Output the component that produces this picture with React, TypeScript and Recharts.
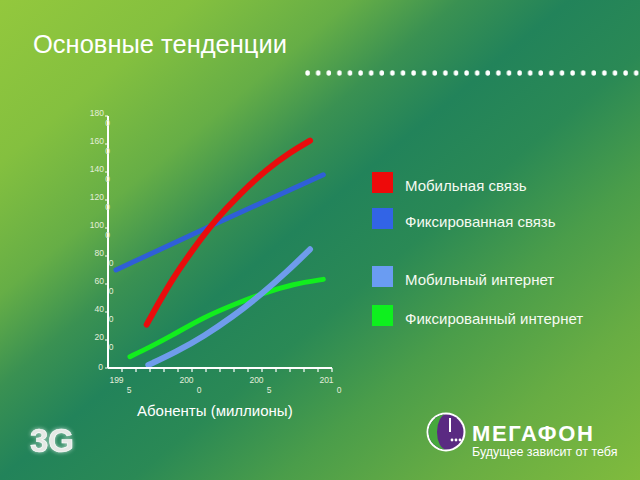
import React from "react";
import { LineChart, Line, XAxis, YAxis } from "recharts";

// ---- data ----
const yTicks = [0, 200, 400, 600, 800, 1000, 1200, 1400, 1600, 1800];
const xBoundaryTicks = [1995.5, 1996.5, 1997.5, 1998.5, 1999.5, 2000.5, 2001.5, 2002.5, 2003.5, 2004.5, 2005.5, 2006.5, 2007.5, 2008.5, 2009.5, 2010.5];
const labeledYears = [1995, 2000, 2005, 2010];

const mobileYears = [1997.26, 1998.2, 1999.16, 2000.59, 2002.14, 2003.93, 2005.84, 2007.5, 2008.93];
const mobileValues = [310, 480, 645, 850, 1055, 1245, 1420, 1540, 1624];

const fixedYears = [1995.07, 2002.14, 2009.88];
const fixedValues = [700, 1030, 1380];

const mobileNetYears = [1997.38, 1999.38, 2001.38, 2003.38, 2005.38, 2007.38, 2008.93];
const mobileNetValues = [21, 115, 229, 364, 520, 696, 848];

const fixedNetYears = [1996.07, 1997.5, 1998.93, 2001.31, 2003.69, 2005.59, 2007.74, 2009.88];
const fixedNetValues = [81, 150, 224, 362, 462, 533, 600, 633];

const legendLabels = ["Мобильная связь", "Фиксированная связь", "Мобильный интернет", "Фиксированный интернет"];
const legendColors = ["#ee0a0a", "#3264e6", "#6a9cf2", "#0ef01e"];

const toData = (xs: number[], vs: number[]) => xs.map((x, i) => ({ x, v: vs[i] }));

const FONT = "'Liberation Sans', Arial, sans-serif";
const TICK_FILL = "#e4eedb";

const YTick = (props: any) => {
  const { x, y, payload } = props;
  const s = String(payload.value);
  if (s === "0") {
    return (
      <text x={x - 1} y={y + 2} textAnchor="end" fontSize={8.5} fill={TICK_FILL} fontFamily={FONT}>0</text>
    );
  }
  const first = s.slice(0, -1);
  const second = s.slice(-1);
  const big = payload.value >= 1000;
  return (
    <g>
      <text x={x} y={y} textAnchor="end" fontSize={8.5} fill={TICK_FILL} fontFamily={FONT}>{first}</text>
      <text x={x + (big ? 3.5 : 7)} y={y + 10} textAnchor="middle" fontSize={8.5} fill={TICK_FILL} fontFamily={FONT}>{second}</text>
    </g>
  );
};

const XTick = (props: any) => {
  const { x, y, payload } = props;
  const year = payload.value - 0.5;
  if (!labeledYears.includes(year)) return <g />;
  const s = String(year);
  const cx = x - 7;
  return (
    <g>
      <text x={cx + 1.5} y={y + 9} textAnchor="middle" fontSize={8.5} fill={TICK_FILL} fontFamily={FONT}>{s.slice(0, 3)}</text>
      <text x={cx + 14} y={y + 19} textAnchor="middle" fontSize={8.5} fill={TICK_FILL} fontFamily={FONT}>{s.slice(3)}</text>
    </g>
  );
};

export default function App() {
  const legendY = [172, 208, 266, 305];
  return (
    <div
      style={{
        position: "absolute",
        left: 0,
        top: 0,
        width: 640,
        height: 480,
        overflow: "hidden",
        background:
          "linear-gradient(140deg, #93c83d 0%, #84c03f 16%, #66ae46 29%, #3a9152 38%, #22835a 47%, #2a8955 58%, #4a9d4a 70%, #68ad43 84%, #80bb3d 100%)",
        fontFamily: FONT,
      }}
    >
      <LineChart
        width={640}
        height={480}
        margin={{ top: 116, left: 78, right: 308, bottom: 82 }}
        style={{ position: "absolute", left: 0, top: 0 }}
      >
        <XAxis
          dataKey="x"
          type="number"
          domain={[1994.5, 2010.5]}
          ticks={xBoundaryTicks}
          interval={0}
          height={30}
          allowDataOverflow
          axisLine={{ stroke: "#ffffff", strokeWidth: 2 }}
          tickLine={{ stroke: "#ffffff", strokeWidth: 1.2 }}
          tickSize={4}
          tickMargin={2}
          tick={<XTick />}
        />
        <YAxis
          type="number"
          domain={[0, 1800]}
          ticks={yTicks}
          interval={0}
          width={30}
          axisLine={{ stroke: "#ffffff", strokeWidth: 2 }}
          tickLine={{ stroke: "#ffffff", strokeWidth: 1 }}
          tickSize={3}
          tickMargin={1}
          tick={<YTick />}
        />
        <Line data={toData(fixedYears, fixedValues)} dataKey="v" type="basis" stroke="#2f5fd8" strokeWidth={5} dot={false} isAnimationActive={false} strokeLinecap="round" />
        <Line data={toData(mobileYears, mobileValues)} dataKey="v" type="basis" stroke="#ea0c0c" strokeWidth={6} dot={false} isAnimationActive={false} strokeLinecap="round" />
        <Line data={toData(fixedNetYears, fixedNetValues)} dataKey="v" type="basis" stroke="#12ee1e" strokeWidth={5} dot={false} isAnimationActive={false} strokeLinecap="round" />
        <Line data={toData(mobileNetYears, mobileNetValues)} dataKey="v" type="basis" stroke="#6f9cec" strokeWidth={6} dot={false} isAnimationActive={false} strokeLinecap="round" />
      </LineChart>

      <svg width={640} height={480} style={{ position: "absolute", left: 0, top: 0, pointerEvents: "none" }}>
        <defs>
          <pattern id="dots" x={305} y={0} width={10.6} height={480} patternUnits="userSpaceOnUse">
            <ellipse cx={2.6} cy={73} rx={2.3} ry={2.7} fill="#ffffff" />
          </pattern>
        </defs>
        <text x={33} y={53} fontSize={25.5} fill="#ffffff" fontFamily={FONT}>Основные тенденции</text>
        <rect x={305} y={68} width={335} height={10} fill="url(#dots)" />

        {legendLabels.map((l, i) => (
          <g key={l}>
            <rect x={372} y={legendY[i]} width={21} height={21} fill={legendColors[i]} />
            <text x={405} y={legendY[i] + 19} fontSize={15} fill="#f6faf2" fontFamily={FONT}>{l}</text>
          </g>
        ))}

        <text x={137} y={416} fontSize={15} fill="#ffffff" fontFamily={FONT}>Абоненты (миллионы)</text>

        <text x={30} y={452} fontSize={33} fontWeight="bold" fill="#e6e9e6" stroke="#ffffff" strokeWidth={0.6} fontFamily={FONT} style={{ filter: "drop-shadow(0 0 2px rgba(255,255,255,0.7))" }}>3G</text>

        <circle cx={446} cy={432} r={19.5} fill="#ffffff" />
        <circle cx={446} cy={432} r={17.5} fill="#5a2a82" />
        <path d="M 446 414.5 A 17.5 17.5 0 0 0 446 449.5 A 9 17.5 0 0 1 446 414.5 Z" fill="#46a83c" />
        <rect x={449} y={418} width={2} height={14} fill="#ffffff" />
        <circle cx={452} cy={440} r={1.4} fill="#ffffff" />
        <circle cx={456} cy={440} r={1.4} fill="#ffffff" />
        <circle cx={460} cy={440} r={1.4} fill="#ffffff" />
        <text x={472} y={441} fontSize={22} fontWeight="bold" fill="#ffffff" fontFamily={FONT} letterSpacing={1.6}>МЕГАФОН</text>
        <text x={472} y={456} fontSize={12.5} fill="#ffffff" fontFamily={FONT}>Будущее зависит от тебя</text>
      </svg>
    </div>
  );
}
